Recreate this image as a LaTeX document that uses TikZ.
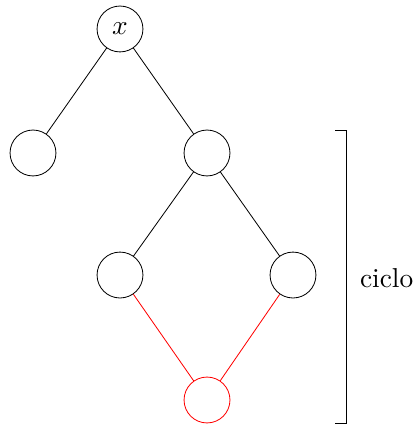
\documentclass[tikz,border=0pt]{standalone}
\begin{document}
\begin{tikzpicture}[
	scale=0.8185, line width=0.3pt,
	vertex/.style={ circle, draw, inner sep=0pt, minimum size=0.59cm },
	vertexr/.style={ red, circle, draw, inner sep=0pt, minimum size=0.59cm }
]
\useasboundingbox (0,0) rectangle (6.531,-6.6725);

\node at (1.884,-0.455) (x) [vertex] {$x$};
\node at (0.518,-2.402) (l) [vertex] {};
\node at (3.25,-2.402) (r) [vertex] {};
\draw (x) to (l);
\draw (x) to (r);
\node at (1.884,-4.318) (rl) [vertex] {};
\node at (4.6,-4.318) (rr) [vertex] {};
\draw (r) to (rl);
\draw (r) to (rr);
\node at (3.25,-6.28) (c) [vertexr] {};
\draw[red] (rl) to (c);
\draw[red] (rr) to (c);

% bracket
\coordinate (bt) at (5.26,-2.041);
\coordinate (bb) at (5.26,-6.641);
\draw (bt) -- ++(0.172,0) |- (bb);
\node at (6.07,-4.36) (ciclo) {ciclo};

\end{tikzpicture}
\end{document}
